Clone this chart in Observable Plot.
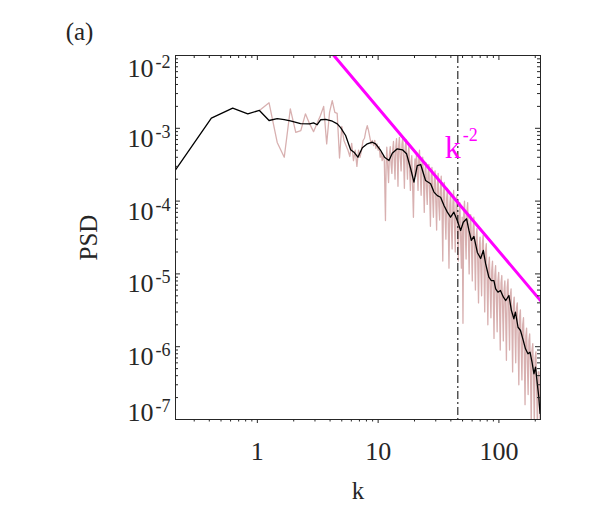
<!DOCTYPE html>
<html><head><meta charset="utf-8">
<script src="https://cdn.jsdelivr.net/npm/d3@7"></script>
<script src="https://cdn.jsdelivr.net/npm/@observablehq/plot@0.6"></script>
<style>body{margin:0;background:#fff}</style>
</head><body><div id="chart"></div>
<script>
// Smoothed spectrum (black)
const blackK = [0.208,0.416,0.625,0.833,1.04,1.25,1.46,1.67,1.875,2.28,
2.71,2.92,3.13,3.34,3.68,4.18,4.59,4.89,5.38,5.92,
6.31,6.80,7.40,8.14,8.95,9.53,10.5,11.3,12.3,13.1,
14.4,15.9,17.2,18.6,19.8,21.1,22.5,24.7,27.2,29.0,
30.9,32.9,35.1,37.4,39.8,42.4,45.2,48.2,50.7,54.0,
56.5,59.1,62.1,66.3,70.6,74.3,77.6,82.6,86.5,90.9,
94.0,98.2,103,109,114,121,127,133,137,144,
151,159,166,174,181,188,195,201,208,214,219];
const blackPSD = [2.63e-4,1.38e-3,1.89e-3,1.58e-3,1.76e-3,1.28e-3,1.36e-3,1.32e-3,1.26e-3,1.16e-3,
1.15e-3,1.19e-3,1.12e-3,1.31e-3,1.33e-3,1.25e-3,1.15e-3,1.02e-3,7.96e-4,5.07e-4,
4.70e-4,4.01e-4,5.40e-4,6.12e-4,6.44e-4,6.12e-4,4.96e-4,4.01e-4,3.61e-4,4.55e-4,
5.22e-4,5.07e-4,4.46e-4,2.78e-4,1.82e-4,3.08e-4,3.18e-4,1.92e-4,1.73e-4,1.33e-4,
1.19e-4,1.13e-4,8.7e-5,7.05e-5,6.01e-5,7.05e-5,5.42e-5,3.95e-5,5.13e-5,5.71e-5,
3.95e-5,2.88e-5,3.27e-5,1.97e-5,1.63e-5,2.10e-5,1.38e-5,9.0e-6,8.1e-6,8.1e-6,
6.24e-6,5.61e-6,5.92e-6,4.79e-6,4.31e-6,5.05e-6,3.14e-6,2.42e-6,2.98e-6,1.85e-6,
1.67e-6,1.22e-6,9.35e-7,7.98e-7,8.4e-7,6.12e-7,4.25e-7,5.23e-7,3.09e-7,2.02e-7,1.21e-7];

// Raw spectrum (pink): low wavenumbers
const pinkLowK = [1.04,1.25,1.46,1.67,1.875,2.08,2.29,2.5,2.71,2.92,
3.13,3.33,3.54,3.75,3.96,4.17,4.38,4.58,4.79,5.0,
5.21,5.42,5.63,5.83,6.04,6.25,6.46,6.67,6.88,7.08,
7.29,7.5,7.71,7.92,8.13,8.33,8.54,8.75,8.96,9.17,
9.38,9.58,9.79,10.0,10.2,10.4,10.6,10.8,11.0,11.25];
const pinkLowPSD = [1.76e-3,2.24e-3,6.4e-4,4.0e-4,1.85e-3,8.8e-4,9.3e-4,1.58e-3,1.15e-3,9.0e-4,
1.18e-3,1.5e-3,2.0e-3,6.1e-4,1.65e-3,2.4e-3,1.65e-3,1.6e-3,3.9e-4,1.06e-3,
6.8e-4,5.8e-4,5.0e-4,4.1e-4,6.2e-4,3.6e-4,5.0e-4,3.0e-4,5.0e-4,4.0e-4,
5.0e-4,6.8e-4,7.3e-4,9.3e-4,1.09e-3,9.3e-4,7.5e-4,6.1e-4,6.8e-4,5.8e-4,
6.8e-4,5.3e-4,6.1e-4,5.0e-4,5.6e-4,4.0e-4,4.7e-4,3.6e-4,4.2e-4,3.6e-4];

// Raw spectrum (pink): high wavenumbers
const pinkHighK = [11.5,11.65,11.8,12.0,12.2,12.4,12.6,12.8,13,13.2,
13.4,13.6,13.8,14.0,14.2,14.4,14.6,14.8,15,15.25,
15.5,15.75,16,16.25,16.5,16.75,17,17.25,17.5,17.75,
18,18.25,18.5,18.75,19,19.3,19.6,19.9,20.2,20.5,
20.8,21.1,21.4,21.7,22,22.35,22.7,23.05,23.4,23.75,
24.1,24.45,24.8,25.15,25.5,25.9,26.3,26.7,27.1,27.5,
27.9,28.3,28.7,29.15,29.6,30.05,30.5,30.95,31.4,31.85,
32.3,32.8,33.3,33.8,34.3,34.8,35.3,35.85,36.4,36.95,
37.5,38.05,38.6,39.2,39.8,40.4,41,41.6,42.2,42.85,
43.5,44.15,44.8,45.45,46.1,46.8,47.5,48.2,48.9,49.65,
50.4,51.15,51.9,52.7,53.5,54.3,55.1,55.9,56.7,57.55,
58.4,59.3,60.2,61.1,62,62.95,63.9,64.85,65.8,66.8,
67.8,68.8,69.8,70.85,71.9,73.0,74.1,75.2,76.3,77.45,
78.6,79.8,81,82.2,83.4,84.65,85.9,87.2,88.5,89.8,
91.1,92.5,93.9,95.3,96.7,98.15,99.6,101.1,102.6,104.15,
105.7,107.25,108.8,110.4,112,113.7,115.4,117.15,118.9,120.7,
122.5,124.3,126.1,128,129.9,131.85,133.8,135.8,137.8,139.9,
142,144.1,146.2,148.4,150.6,152.85,155.1,157.45,159.8,162.2,
164.6,167,169.5,172,174.6,177.2,179.8,182.5,185.2,188,
190.8,193.6,196.5,199.4,202.4,205.4,208.5,211.6,214.7,217.3,
220];
const pinkHighPSD = [5.4e-5,3.3e-4,5.5e-4,3.0e-4,1.8e-4,4.4e-4,5.6e-4,3.2e-4,2.4e-4,5.0e-4,
6.6e-4,3.6e-4,2.0e-4,5.5e-4,7.2e-4,4.2e-4,1.6e-4,5.8e-4,7.5e-4,4.0e-4,
2.6e-4,6.0e-4,7.4e-4,3.8e-4,1.5e-4,5.5e-4,7.0e-4,3.6e-4,2.0e-4,4.8e-4,
5.6e-4,2.6e-4,1.4e-4,3.5e-4,4.2e-4,1.6e-4,6.0e-5,2.5e-4,3.8e-4,2.2e-4,
4.6e-4,2.6e-4,1.4e-4,3.8e-4,5.0e-4,2.4e-4,1.2e-4,3.2e-4,4.0e-4,1.9e-4,
7.0e-5,2.6e-4,3.4e-4,1.5e-4,9.0e-5,2.4e-4,3.2e-4,1.3e-4,4.5e-5,2.2e-4,
2.9e-4,1.1e-4,6.0e-5,1.9e-4,2.6e-4,9.5e-5,4.0e-5,1.7e-4,2.4e-4,8.5e-5,
5.5e-5,1.5e-4,2.2e-4,7.5e-5,1.5e-5,1.3e-4,1.8e-4,6.5e-5,3.0e-5,1.1e-4,
1.5e-4,5.0e-5,1.2e-5,9.0e-5,1.3e-4,4.5e-5,2.2e-5,9.5e-5,1.4e-4,5.0e-5,
2.0e-5,8.0e-5,1.2e-4,4.0e-5,1.5e-5,6.5e-5,9.5e-5,3.0e-5,1.2e-5,6.0e-5,
2.1e-6,6.5e-5,1.0e-4,3.8e-5,1.6e-5,7.0e-5,9.5e-5,3.2e-5,1.0e-5,4.8e-5,
6.5e-5,2.4e-5,8.0e-6,4.2e-5,6.0e-5,2.2e-5,6.0e-6,3.2e-5,4.2e-5,1.5e-5,
4.0e-6,2.4e-5,3.2e-5,1.2e-5,5.0e-6,2.6e-5,3.4e-5,1.3e-5,3.0e-6,2.0e-5,
2.6e-5,9.0e-6,2.0e-6,1.3e-5,1.7e-5,6.5e-6,2.5e-6,1.1e-5,1.5e-5,5.5e-6,
1.3e-6,9.5e-6,1.3e-5,4.5e-6,1.6e-6,8.0e-6,1.05e-5,4.0e-6,9.0e-7,7.5e-6,
9.5e-6,3.4e-6,1.2e-6,6.0e-6,8.0e-6,2.8e-6,6.5e-7,6.5e-6,8.5e-6,3.0e-6,
9.0e-7,5.0e-6,6.2e-6,2.2e-6,4.5e-7,3.8e-6,4.8e-6,1.8e-6,6.0e-7,3.4e-6,
4.0e-6,1.3e-6,3.0e-7,2.6e-6,3.2e-6,1.1e-6,3.5e-7,2.0e-6,2.5e-6,8.0e-7,
1.6e-7,1.4e-6,1.8e-6,6.0e-7,2.2e-7,1.2e-6,1.5e-6,5.0e-7,9.0e-8,9.0e-7,
1.1e-6,3.8e-7,8.0e-8,7.0e-7,8.5e-7,2.8e-7,7.0e-8,4.5e-7,4.5e-7,1.6e-7,
8.0e-8];

// k^-2 reference line and cutoff
const fitK = [4.3, 221];
const fitPSD = [1.0e-2, 4.3e-6];
const cutoffK = [45.7];
const fitLabel = [{k: 41.4, psd: 5.4e-4, base: "k", exp: "-2"}];

// Axes
const xDomain = [0.21, 221];
const yDomain = [1e-7, 1e-2];
const xTickValues = [1, 10, 100];
const xTickLabels = ["1", "10", "100"];
const yTickValues = [1e-7, 1e-6, 1e-5, 1e-4, 1e-3, 1e-2];
const yTickExponents = ["-7", "-6", "-5", "-4", "-3", "-2"];
const xMinor = [0.3,0.4,0.5,0.6,0.7,0.8,0.9,2,3,4,5,6,7,8,9,20,30,40,50,60,70,80,90,200];
const yMinor = [];
for (let e = -7; e < -2; e++) for (let m = 2; m <= 9; m++) yMinor.push(m * Math.pow(10, e));

const black = blackK.map((k, i) => ({k, psd: blackPSD[i]}));
const pink = pinkLowK.map((k, i) => ({k, psd: pinkLowPSD[i]}))
  .concat(pinkHighK.map((k, i) => ({k, psd: pinkHighPSD[i]})));
const fit = fitK.map((k, i) => ({k, psd: fitPSD[i]}));

const W = 590, H = 532, mL = 175, mR = 50, mT = 55, mB = 113;
const pw = W - mL - mR, ph = H - mT - mB;
const ink = "#262626";

const svg = Plot.plot({
  width: W, height: H,
  marginLeft: mL, marginRight: mR, marginTop: mT, marginBottom: mB,
  style: {fontFamily: "Liberation Serif", fontSize: "25px", color: ink, background: "#fff"},
  x: {type: "log", domain: xDomain},
  y: {type: "log", domain: yDomain},
  marks: [
    Plot.line(pink, {x: "k", y: "psd", stroke: "#d8b0b0", strokeWidth: 1.3, clip: true}),
    Plot.line(black, {x: "k", y: "psd", stroke: "#000", strokeWidth: 1.3, clip: true}),
    Plot.ruleX(cutoffK, {x: d => d, stroke: "#000", strokeWidth: 1, strokeDasharray: "8,3,2,3"}),
    Plot.line(fit, {x: "k", y: "psd", stroke: "#ff00ff", strokeWidth: 3, clip: true}),
    Plot.text(fitLabel, {x: "k", y: "psd", text: "base", fill: "#ff00ff", fontSize: 32}),
    Plot.text(fitLabel, {x: "k", y: "psd", text: "exp", fill: "#ff00ff", fontSize: 18, dx: 10, dy: -13, textAnchor: "start"}),
    Plot.frame({stroke: ink, strokeWidth: 1}),
    // inward ticks: left, right, top
    Plot.ruleY(yTickValues, {y: d => d, insetRight: pw - 5, stroke: ink}),
    Plot.ruleY(yMinor, {y: d => d, insetRight: pw - 3, stroke: ink}),
    Plot.ruleY(yTickValues, {y: d => d, insetLeft: pw - 5, stroke: ink}),
    Plot.ruleY(yMinor, {y: d => d, insetLeft: pw - 3, stroke: ink}),
    Plot.ruleX(xTickValues, {x: d => d, insetBottom: ph - 5, stroke: ink}),
    Plot.ruleX(xMinor, {x: d => d, insetBottom: ph - 3, stroke: ink}),
    // axes
    Plot.axisX({ticks: xTickValues, tickSize: 4, tickPadding: 18, fontSize: 26,
      tickFormat: d => xTickLabels[xTickValues.indexOf(d)], label: null}),
    Plot.axisX({ticks: xMinor, tickSize: 2.5, tickFormat: () => "", label: null}),
    Plot.axisY({ticks: yTickValues, tickSize: 0, tickPadding: 5, fontSize: 26,
      tickFormat: d => yTickExponents[yTickValues.indexOf(d)], label: null}),
    // titles
    Plot.text(["PSD"], {text: d => d, frameAnchor: "left", dx: -87, rotate: -90, fontSize: 25,
      fill: ink, textAnchor: "middle", lineAnchor: "middle"}),
    Plot.text(["k"], {text: d => d, frameAnchor: "bottom", dy: 71, fontSize: 25, fill: ink,
      textAnchor: "middle", lineAnchor: "middle"}),
    Plot.text(["(a)"], {text: d => d, frameAnchor: "top-left", dx: -96, dy: -24, fontSize: 25,
      fill: ink, textAnchor: "middle", lineAnchor: "middle"})
  ]
});

// y tick labels as 10 with a superscript exponent (end labels nudged inward, as in the original)
const NS = "http://www.w3.org/2000/svg";
const baselineShift = {"-7": 1.5, "-2": 21.5};
svg.querySelectorAll('[aria-label="y-axis tick label"] text').forEach(t => {
  const e = t.textContent;
  t.textContent = "";
  const a = document.createElementNS(NS, "tspan"); a.textContent = "10";
  const b = document.createElementNS(NS, "tspan"); b.textContent = e;
  b.setAttribute("font-size", "18"); b.setAttribute("dy", "-9"); b.setAttribute("dx", "2");
  t.append(a, b);
  t.removeAttribute("dy");
  t.setAttribute("y", String(e in baselineShift ? baselineShift[e] : 18.5));
});

document.getElementById("chart").append(svg);
</script></body></html>
